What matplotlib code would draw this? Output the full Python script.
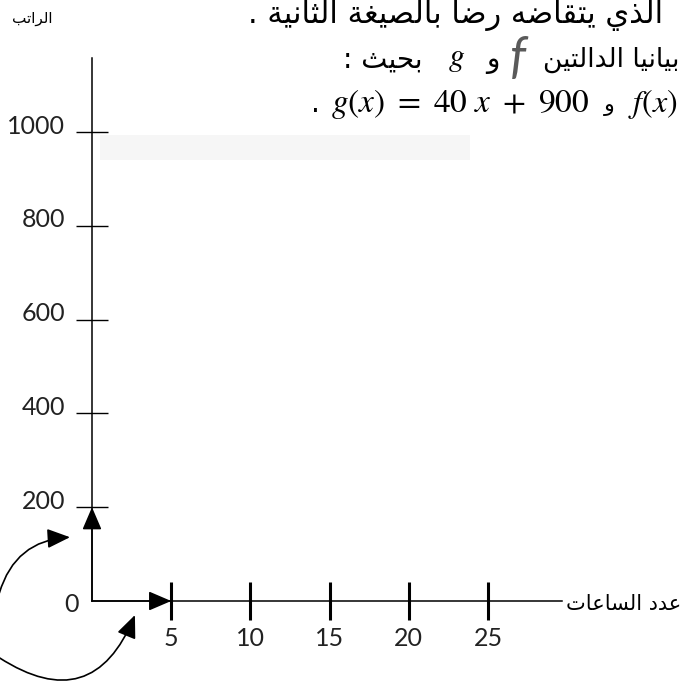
import matplotlib
matplotlib.use("Agg")
import matplotlib.pyplot as plt
import matplotlib.transforms as mtransforms

hours_ticks = [5, 10, 15, 20, 25]
salary_ticks = [200, 400, 600, 800, 1000]
unit_hours = 5
unit_salary = 200

y_label = "الراتب"
x_label = "عدد الساعات"
line1 = "الذي يتقاضه رضا بالصيغة الثانية ."
line2_right = "بيانيا الدالتين"
line2_left = "بحيث :"
and_word = "و"
g_expr = r"$g(x)\ =\ 40\ x\ +\ 900$"
f_expr = r"$f(x)$"

# minimal arabic shaping (matplotlib draws glyphs one by one, left to right)
DUAL = {'ب': 0xFE8F, 'ت': 0xFE95, 'ث': 0xFE99, 'ج': 0xFE9D, 'ح': 0xFEA1,
        'خ': 0xFEA5, 'س': 0xFEB1, 'ش': 0xFEB5, 'ص': 0xFEB9, 'ض': 0xFEBD,
        'ط': 0xFEC1, 'ظ': 0xFEC5, 'ع': 0xFEC9, 'غ': 0xFECD, 'ف': 0xFED1,
        'ق': 0xFED5, 'ك': 0xFED9, 'ل': 0xFEDD, 'م': 0xFEE1, 'ن': 0xFEE5,
        'ه': 0xFEE9, 'ي': 0xFEF1}
RIGHT = {'ا': 0xFE8D, 'د': 0xFEA9, 'ذ': 0xFEAB, 'ر': 0xFEAD, 'ز': 0xFEAF,
         'ة': 0xFE93, 'و': 0xFEED, 'ى': 0xFEEF}


def shape(s):
    out = []
    for i, ch in enumerate(s):
        if ch not in DUAL and ch not in RIGHT:
            out.append(ch)
            continue
        prev = s[i - 1] if i > 0 else ''
        nxt = s[i + 1] if i + 1 < len(s) else ''
        jp = prev in DUAL
        jn = ch in DUAL and (nxt in DUAL or nxt in RIGHT)
        base = DUAL.get(ch, RIGHT.get(ch))
        k = 3 if (jp and jn) else 1 if jp else 2 if jn else 0
        out.append(chr(base + k))
    return ''.join(reversed(out))


plt.rcParams['mathtext.fontset'] = 'stix'
W, H = 683, 696
fig = plt.figure(figsize=(W / 100, H / 100), dpi=100)
fig.patch.set_facecolor('white')
ax = fig.add_axes([0, 0, 1, 1])

# pixel mapping: x 0 -> 92px, 25 -> 488px ; y 0 -> 601px, 1000 -> 132px
px_x = (488 - 92) / 25
px_y = (601 - 132) / 1000
ax.set_xlim(-92 / px_x, (W - 92) / px_x)
ax.set_ylim(-(H - 601) / px_y, 601 / px_y)

for s in ['top', 'right']:
    ax.spines[s].set_visible(False)
ax.spines['left'].set_position(('data', 0))
ax.spines['bottom'].set_position(('data', 0))
ax.spines['left'].set_bounds(0, (601 - 58) / px_y)
ax.spines['bottom'].set_bounds(0, (562 - 92) / px_x)
ax.spines['left'].set_linewidth(1.1)
ax.spines['bottom'].set_linewidth(1.1)

ax.set_yticks(salary_ticks)
ax.set_yticklabels([str(v) for v in salary_ticks])
ax.set_xticks(hours_ticks)
ax.set_xticklabels([str(v) for v in hours_ticks])
ax.tick_params(axis='y', direction='inout', length=23, width=1.0, pad=8,
               labelsize=18, labelcolor='#222222')
ax.tick_params(axis='x', direction='inout', length=27, width=2.2, pad=5,
               labelsize=18, labelcolor='#222222')
for lab in ax.get_yticklabels():
    lab.set_fontfamily('Lato')
    lab.set_transform(lab.get_transform() +
                      mtransforms.ScaledTranslation(0, 8 / 100, fig.dpi_scale_trans))
for lab in ax.get_xticklabels():
    lab.set_fontfamily('Lato')

ax.text(-20 / px_x, -4 / px_y, "0", fontsize=18, family='Lato', color='#222222',
        ha='center', va='center')

head = dict(arrowstyle='-|>,head_length=0.7,head_width=0.3', mutation_scale=20,
            color='black', lw=1.1, shrinkA=0, shrinkB=0)
ax.annotate('', xy=(0, unit_salary), xytext=(0, 0), arrowprops=head)
ax.annotate('', xy=(unit_hours, 0), xytext=(0, 0), arrowprops=head)

# hand drawn curved arrows
ax.annotate('', xy=(-1.39, 136), xytext=(-5.85, 17),
            arrowprops=dict(head, connectionstyle='arc3,rad=-0.35', lw=1.2))
ax.annotate('', xy=(2.71, -30), xytext=(-5.85, -121),
            arrowprops=dict(head, connectionstyle='arc3,rad=0.6', lw=1.2))


def fx(p):
    return p / W


def fy(p):
    return 1 - p / H


# axis titles
fig.text(fx(12), fy(19), shape(y_label), fontsize=11, family='DejaVu Sans',
         ha='left', va='center')
fig.text(fx(566), fy(604), shape(x_label), fontsize=15, family='DejaVu Sans',
         ha='left', va='center')

# worksheet text above the chart
fig.text(fx(248), fy(15), shape(line1), fontsize=22, family='DejaVu Sans',
         ha='left', va='center')
fig.text(fx(343), fy(60), shape(line2_left), fontsize=20, family='DejaVu Sans',
         ha='left', va='center')
fig.text(fx(448), fy(58), r"$g$", fontsize=23, ha='left', va='center')
fig.text(fx(486), fy(60), shape(and_word), fontsize=20, family='DejaVu Sans',
         ha='left', va='center')
fig.text(fx(510), fy(58), "f", fontsize=36, family='Lato', style='italic',
         color='#5a5a5a', ha='left', va='center')
fig.text(fx(543), fy(60), shape(line2_right), fontsize=19, family='DejaVu Sans',
         ha='left', va='center')
fig.text(fx(311), fy(104), ".", fontsize=20, ha='left', va='center')
fig.text(fx(331), fy(104), g_expr, fontsize=24, ha='left', va='center')
fig.text(fx(604), fy(106), shape(and_word), fontsize=16, family='DejaVu Sans',
         ha='left', va='center')
fig.text(fx(628), fy(104), f_expr, fontsize=23, ha='left', va='center')

ax.axhspan((601 - 160) / px_y, (601 - 135) / px_y, xmin=100 / W, xmax=470 / W,
           color='#f6f6f6', zorder=0, lw=0)

fig.savefig('out.png', dpi=100, facecolor='white')
